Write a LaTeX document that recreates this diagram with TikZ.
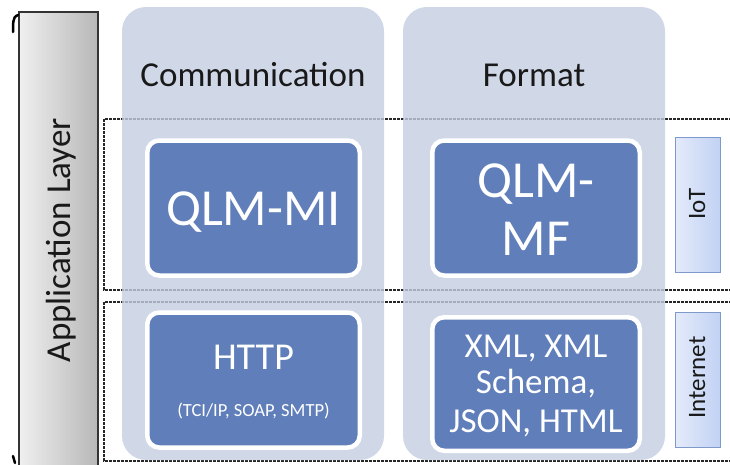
\documentclass[tikz,border=0pt]{standalone}
\usepackage{fontspec}
\setmainfont{Carlito}
\usetikzlibrary{calc}

\definecolor{colfill}{HTML}{C4CEE2}
\definecolor{boxblue}{HTML}{5F7EBA}
\definecolor{tagfill}{HTML}{C2D2F4}
\definecolor{tagline}{HTML}{7F99CC}
\definecolor{barline}{HTML}{333333}

\tikzset{
  column/.style={rounded corners=24pt, fill=colfill, fill opacity=.8,
    minimum width=262pt, minimum height=453pt},
  qlmbox/.style={rounded corners=12pt, fill=boxblue, draw=white, line width=4.5pt,
    minimum width=212.5pt, minimum height=135pt},
  tagbox/.style={left color=tagfill!45, right color=tagfill, draw=tagline, line width=1pt,
    minimum width=45pt, minimum height=135pt},
  frame/.style={draw=black!85, dash pattern=on 3pt off 1pt, line width=1.3pt},
  headtext/.style={anchor=base, inner sep=0pt, text=black!90,
    font=\fontsize{35}{42}\selectfont},
  boxtext/.style={anchor=base, inner sep=0pt, text=white},
  sidetext/.style={anchor=base, inner sep=0pt, rotate=90, text=black!90}
}

\begin{document}
\begin{tikzpicture}[x=1pt,y=-1pt]

        \useasboundingbox (0,0) rectangle (730,464);

        % draw the two dashed layer frames
        \draw[frame] (104,119) rectangle (745,290);
        \draw[frame] (104,302) rectangle (745,461);

        % draw the columns and their titles
        \foreach \cx/\name/\txt in {253/comm/Communication, 534/form/Format} {
                \node[column] (\name) at (\cx,233.5) {};
                \node[headtext] (\name-head) at (\cx,86) {\txt};
        }

        % draw the blue boxes
        \node[qlmbox] (qlmmi) at (253.5,208) {};
        \node[qlmbox] (http) at (253.5,380) {};
        \node[qlmbox, minimum width=207.5pt] (qlmmf) at (536,208) {};
        \node[qlmbox, minimum width=207.5pt, minimum height=133.5pt] (xml) at (536,384) {};

        % texts in the boxes
        \node[boxtext, font=\fontsize{52}{58}\selectfont] (qlmmi-txt) at (253.5,225) {QLM-MI};
        \node[boxtext, font=\fontsize{38}{42}\selectfont] (http-txt) at (253.5,369) {HTTP};
        \node[boxtext, font=\fontsize{18.5}{22}\selectfont] (http-sub) at (253.5,416) {(TCI/IP, SOAP, SMTP)};
        \node[boxtext, font=\fontsize{52}{58}\selectfont] (qlmmf-a) at (536,197) {QLM-};
        \node[boxtext, font=\fontsize{52}{58}\selectfont] (qlmmf-b) at (536,255) {MF};
        \foreach \y/\txt in {357/{XML, XML}, 393/{Schema,}, 432/{JSON, HTML}}
                \node[boxtext, font=\fontsize{35}{40}\selectfont] at (536,\y) {\txt};

        % draw the side tags
        \foreach \cy/\ty/\name/\txt in {204.5/204/iot/IoT, 379.5/377.5/inet/Internet} {
                \node[tagbox] (\name) at (697.5,\cy) {};
                \node[sidetext, font=\fontsize{25}{30}\selectfont] (\name-txt) at (705,\ty) {\txt};
        }

        % draw the application layer bar
        \node[anchor=north west, left color=black!6, right color=black!28, draw=barline,
              line width=1.5pt, minimum width=79pt, minimum height=470pt] (app) at (18,11) {};
        \node[sidetext, font=\fontsize{35}{42}\selectfont] (app-txt) at (70,240) {Application Layer};
        % small black marks left of the bar
        \draw[line width=2.5pt, line cap=round] (13,32) to[out=85,in=200] (18,15);
        \draw[line width=2.5pt, line cap=round] (13,456) -- (15,463);

\end{tikzpicture}
\end{document}
